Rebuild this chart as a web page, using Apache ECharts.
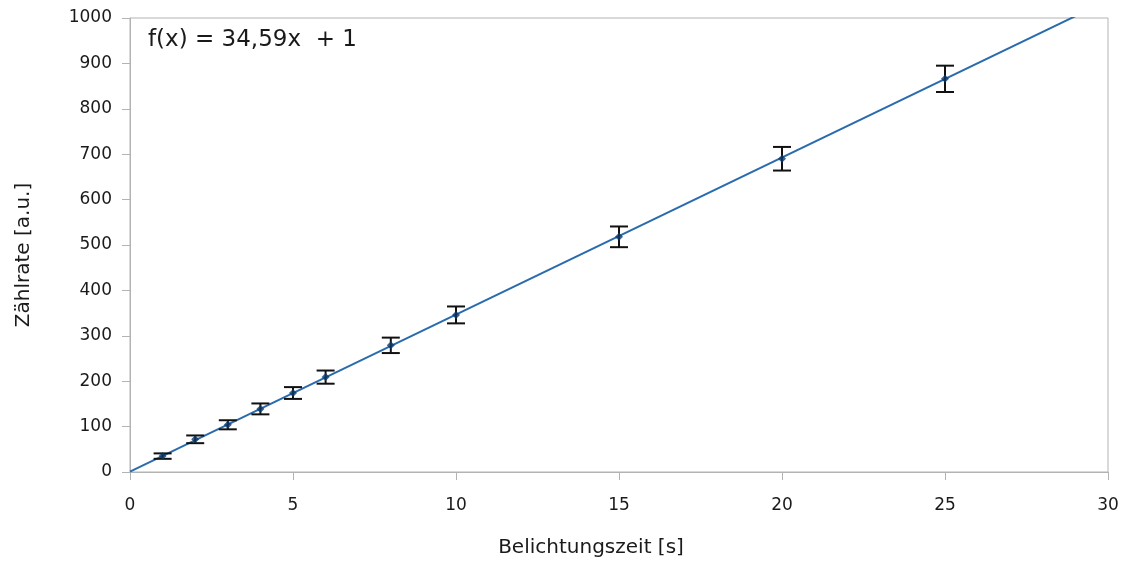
<!DOCTYPE html>
<html>
<head>
<meta charset="utf-8">
<script src="https://cdn.jsdelivr.net/npm/echarts@6/dist/echarts.min.js"></script>
<style>
  html, body { margin: 0; padding: 0; background: #fff; }
  #chart { width: 1129px; height: 563px; }
</style>
</head>
<body>
<div id="chart"></div>
<script>
// Messwerte
var zeit = [1, 2, 3, 4, 5, 6, 8, 10, 15, 20, 25];
var rate = [35, 72, 104, 139, 174, 209, 279, 346, 518, 690, 866];
var fehler = [6, 8.5, 10, 12, 13, 14.5, 17, 18.6, 22.8, 26, 29];

// Ausgleichsgerade f(x) = 34,59x + 1
var fitX = [0, 30];
var fitY = [1, 1038.7];

var xTicks = [0, 5, 10, 15, 20, 25, 30];
var yTicks = [0, 100, 200, 300, 400, 500, 600, 700, 800, 900, 1000];

var punkte = zeit.map(function (x, i) { return [x, rate[i]]; });
var bars = zeit.map(function (x, i) { return [x, rate[i] - fehler[i], rate[i] + fehler[i]]; });
var gerade = fitX.map(function (x, i) { return [x, fitY[i]]; });

var chart = echarts.init(document.getElementById('chart'));
var font = 'DejaVu Sans, sans-serif';
var grau = '#b3b3b3';
var schrift = '#1a1a1a';

chart.setOption({
  animation: false,
  grid: { left: 130, right: 21, top: 18, bottom: 91, show: true, borderColor: grau, borderWidth: 1 },
  xAxis: {
    type: 'value', min: xTicks[0], max: xTicks[xTicks.length - 1], interval: 5,
    axisLine: { show: true, lineStyle: { color: grau } },
    axisTick: { show: true, length: 8, lineStyle: { color: grau } },
    axisLabel: { margin: 25, fontFamily: font, fontSize: 17, color: schrift },
    splitLine: { show: false }
  },
  yAxis: {
    type: 'value', min: yTicks[0], max: yTicks[yTicks.length - 1], interval: 100,
    axisLine: { show: true, lineStyle: { color: grau } },
    axisTick: { show: true, length: 8, lineStyle: { color: grau } },
    axisLabel: { margin: 18, fontFamily: font, fontSize: 17, color: schrift,
      formatter: function (v) { return String(v); } },
    splitLine: { show: false }
  },
  graphic: [
    {
      type: 'text', left: 148, top: 29,
      style: { text: 'f(x) = 34,59x  + 1', fontFamily: font, fontSize: 23, fill: schrift }
    },
    {
      type: 'text', x: 591, y: 548,
      style: { text: 'Belichtungszeit [s]', fontFamily: font, fontSize: 20, fill: schrift,
        align: 'center', verticalAlign: 'middle' }
    },
    {
      type: 'text', x: 24, y: 255, rotation: Math.PI / 2,
      style: { text: 'Zählrate [a.u.]', fontFamily: font, fontSize: 20, fill: schrift,
        align: 'center', verticalAlign: 'middle' }
    }
  ],
  series: [
    {
      type: 'line', data: gerade, showSymbol: false, clip: true,
      lineStyle: { color: '#2a6bad', width: 2 }, z: 2
    },
    {
      type: 'custom', data: bars, z: 3,
      renderItem: function (params, api) {
        var x = api.value(0);
        var lo = api.coord([x, api.value(1)]);
        var hi = api.coord([x, api.value(2)]);
        var w = 9;
        var st = { stroke: '#111', lineWidth: 2 };
        return {
          type: 'group',
          children: [
            { type: 'line', shape: { x1: lo[0], y1: lo[1], x2: hi[0], y2: hi[1] }, style: st },
            { type: 'line', shape: { x1: lo[0] - w, y1: lo[1], x2: lo[0] + w, y2: lo[1] }, style: st },
            { type: 'line', shape: { x1: hi[0] - w, y1: hi[1], x2: hi[0] + w, y2: hi[1] }, style: st }
          ]
        };
      }
    },
    {
      type: 'scatter', data: punkte, symbol: 'diamond', symbolSize: 8,
      itemStyle: { color: '#0b3a6b' }, z: 4
    }
  ]
});
</script>
</body>
</html>
